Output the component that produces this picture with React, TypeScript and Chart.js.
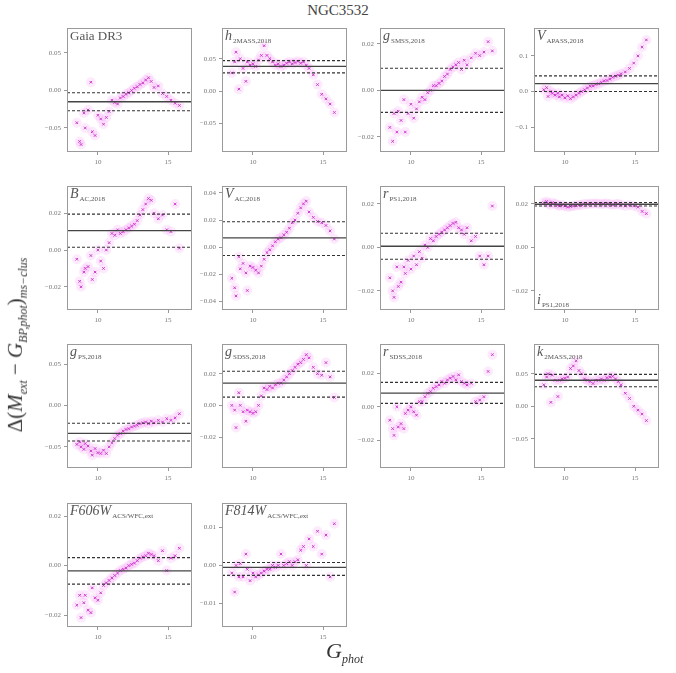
import React, { useEffect, useRef } from "react";
import { Chart, registerables } from "chart.js";
Chart.register(...registerables);

// G_phot magnitudes of the cluster stars
const gPhot = [8.5, 8.7, 8.8, 9.0, 9.1, 9.3, 9.5, 9.6, 9.8, 10.0, 10.2, 10.4, 10.6, 10.8, 11.0, 11.2, 11.4, 11.6, 11.8, 12.0, 12.2, 12.4, 12.6, 12.8, 13.0, 13.2, 13.4, 13.6, 13.8, 14.0, 14.3, 14.6, 14.9, 15.2, 15.5, 15.8];

const gaiaDR3 = [-0.043, -0.068, -0.072, -0.03, -0.05, -0.026, 0.011, -0.055, -0.06, -0.033, -0.038, -0.045, -0.036, -0.028, -0.013, -0.016, -0.018, -0.01, -0.008, -0.005, -0.003, 0.0, 0.003, 0.005, 0.008, 0.01, 0.014, 0.017, 0.012, 0.004, 0.006, -0.004, -0.008, -0.013, -0.017, -0.02];
const h2mass = [0.028, 0.045, 0.06, 0.003, 0.05, 0.035, 0.015, 0.045, 0.04, 0.042, 0.038, 0.048, 0.055, 0.07, 0.055, 0.05, 0.045, 0.04, 0.042, 0.038, 0.04, 0.043, 0.045, 0.042, 0.044, 0.046, 0.043, 0.045, 0.04, 0.035, 0.025, 0.01, -0.005, -0.012, -0.02, -0.033];
const gSmss = [-0.016, -0.022, -0.01, -0.018, -0.009, -0.013, -0.004, -0.018, -0.01, -0.006, -0.012, -0.008, -0.005, -0.003, -0.004, -0.001, 0.0, 0.002, 0.002, 0.003, 0.004, 0.006, 0.007, 0.009, 0.01, 0.011, 0.012, 0.009, 0.013, 0.011, 0.014, 0.016, 0.015, 0.0165, 0.021, 0.017];
const vApass = [0.005, 0.011, -0.014, 0.0, -0.005, -0.01, -0.005, -0.015, -0.01, -0.018, -0.012, -0.02, -0.015, -0.01, -0.005, 0.0, 0.005, 0.01, 0.015, 0.016, 0.02, 0.022, 0.026, 0.03, 0.031, 0.035, 0.04, 0.043, 0.046, 0.05, 0.055, 0.065, 0.08, 0.1, 0.125, 0.145];
const bAc = [-0.005, -0.017, -0.02, -0.012, -0.01, -0.009, -0.003, -0.016, -0.012, 0.0, -0.006, -0.01, 0.0, 0.004, 0.009, 0.008, 0.011, 0.009, 0.01, 0.011, 0.012, 0.013, 0.014, 0.016, 0.019, 0.022, 0.025, 0.028, 0.027, 0.02, 0.017, 0.019, 0.011, 0.01, 0.025, 0.001];
const vAc = [-0.023, -0.03, -0.036, -0.007, -0.016, -0.012, -0.019, -0.032, -0.014, -0.015, -0.017, -0.019, -0.014, -0.009, -0.004, -0.002, 0.001, 0.004, 0.006, 0.007, 0.009, 0.011, 0.014, 0.018, 0.02, 0.025, 0.029, 0.032, 0.034, 0.026, 0.022, 0.019, 0.018, 0.016, 0.012, 0.006];
const rPs1 = [-0.014, -0.02, -0.023, -0.009, -0.018, -0.016, -0.009, -0.012, -0.006, -0.01, -0.004, -0.008, -0.002, -0.005, 0.001, 0.0, 0.004, 0.003, 0.005, 0.006, 0.007, 0.008, 0.009, 0.01, 0.011, 0.0115, 0.009, 0.008, 0.006, 0.009, 0.003, 0.005, -0.004, -0.008, -0.004, 0.019];
const iPs1 = [0.0205, 0.021, 0.02, 0.0195, 0.0205, 0.02, 0.0195, 0.019, 0.0195, 0.019, 0.0185, 0.0188, 0.019, 0.0192, 0.0195, 0.0195, 0.02, 0.0198, 0.02, 0.02, 0.0202, 0.02, 0.0198, 0.02, 0.0202, 0.0198, 0.0195, 0.0198, 0.02, 0.0195, 0.019, 0.0195, 0.019, 0.0185, 0.0165, 0.0155];
const gPs = [-0.047, -0.044, -0.05, -0.053, -0.046, -0.049, -0.055, -0.06, -0.052, -0.057, -0.058, -0.054, -0.058, -0.05, -0.045, -0.04, -0.036, -0.034, -0.031, -0.029, -0.028, -0.026, -0.025, -0.024, -0.022, -0.021, -0.02, -0.022, -0.019, -0.021, -0.018, -0.02, -0.016, -0.018, -0.015, -0.01];
const gSdss = [0.0, -0.003, -0.014, 0.008, 0.0, -0.004, -0.01, -0.003, -0.004, -0.005, -0.004, 0.0, 0.006, 0.011, 0.01, 0.012, 0.011, 0.013, 0.014, 0.014, 0.016, 0.018, 0.02, 0.022, 0.024, 0.026, 0.027, 0.029, 0.032, 0.03, 0.024, 0.02, 0.019, 0.027, 0.018, 0.005];
const rSdss = [-0.008, -0.013, -0.017, 0.0, -0.012, -0.01, -0.013, -0.004, -0.002, 0.0, -0.003, -0.005, 0.003, 0.003, 0.006, 0.008, 0.009, 0.011, 0.012, 0.013, 0.015, 0.014, 0.016, 0.017, 0.018, 0.016, 0.019, 0.015, 0.014, 0.013, 0.014, 0.003, 0.004, 0.006, 0.021, 0.031];
const k2mass = [0.033, 0.045, 0.05, 0.006, 0.048, 0.04, 0.015, 0.04, 0.042, 0.043, 0.045, 0.058, 0.062, 0.07, 0.055, 0.05, 0.042, 0.04, 0.038, 0.035, 0.04, 0.04, 0.042, 0.04, 0.044, 0.045, 0.046, 0.042, 0.038, 0.033, 0.02, 0.012, 0.0, -0.006, -0.012, -0.022];
const f606w = [-0.016, -0.012, -0.021, -0.015, -0.012, -0.018, -0.019, -0.009, -0.013, -0.014, -0.011, -0.008, -0.007, -0.006, -0.005, -0.004, -0.003, -0.002, -0.0015, -0.001, 0.0, 0.0005, 0.001, 0.002, 0.003, 0.0035, 0.004, 0.005, 0.0045, 0.004, 0.002, 0.006, -0.002, 0.003, 0.004, 0.007];
const f814w = [-0.002, -0.007, 0.0, -0.003, 0.0005, -0.003, 0.003, -0.001, -0.004, -0.002, -0.003, -0.0025, -0.002, -0.0015, -0.001, -0.001, 0.0, -0.0005, 0.0, 0.003, 0.0, 0.0005, 0.001, 0.0, 0.001, 0.0015, 0.004, 0.005, 0.0, 0.007, 0.005, 0.009, 0.003, 0.008, -0.003, 0.011];

// median offset and its +/- band per panel
const medianOffsets = [-0.015, 0.038, 0.0, 0.022, 0.0105, 0.0069, 0.0005, 0.0198, -0.0337, 0.014, 0.0081, 0.04, -0.0021, -0.0005];
const upperBounds = [-0.003, 0.047, 0.0095, 0.044, 0.0195, 0.0188, 0.0065, 0.0206, -0.0215, 0.0215, 0.0145, 0.049, 0.0032, 0.0008];
const lowerBounds = [-0.027, 0.028, -0.0095, 0.0, 0.0015, -0.0062, -0.0055, 0.019, -0.043, 0.0052, 0.002, 0.03, -0.0075, -0.0026];

const xTicks = [10, 15];
const ticks05 = [-0.05, 0, 0.05];
const ticks02 = [-0.02, 0, 0.02];
const ticks10 = [-0.1, 0, 0.1];
const ticks04 = [-0.04, -0.02, 0, 0.02, 0.04];
const ticks01 = [-0.01, 0, 0.01];

const X_MIN = 7.8;
const X_MAX = 16.7;

const COLS = [67, 222, 380, 534];
const ROWS = [27, 185, 343, 502];
const PW = 125;
const PH = 125;
const PAD_L = 45;
const PAD_T = 6;
const PAD_R = 6;
const PAD_B = 25;

type Cfg = {
  main: string; sub: string; italic: boolean; values: number[];
  yMin: number; yMax: number; ticks: number[]; dec: number;
  col: number; row: number; labelBottom?: boolean;
};

const panels: Cfg[] = [
  { main: "Gaia DR3", sub: "", italic: false, values: gaiaDR3, yMin: -0.082, yMax: 0.083, ticks: ticks05, dec: 2, col: 0, row: 0 },
  { main: "h", sub: "2MASS,2018", italic: true, values: h2mass, yMin: -0.094, yMax: 0.097, ticks: ticks05, dec: 2, col: 1, row: 0 },
  { main: "g", sub: "SMSS,2018", italic: true, values: gSmss, yMin: -0.0266, yMax: 0.0268, ticks: ticks02, dec: 2, col: 2, row: 0 },
  { main: "V", sub: "APASS,2018", italic: true, values: vApass, yMin: -0.17, yMax: 0.178, ticks: ticks10, dec: 1, col: 3, row: 0 },
  { main: "B", sub: "AC,2018", italic: true, values: bAc, yMin: -0.0326, yMax: 0.0347, ticks: ticks02, dec: 2, col: 0, row: 1 },
  { main: "V", sub: "AC,2018", italic: true, values: vAc, yMin: -0.0464, yMax: 0.045, ticks: ticks04, dec: 2, col: 1, row: 1 },
  { main: "r", sub: "PS1,2018", italic: true, values: rPs1, yMin: -0.0288, yMax: 0.0281, ticks: ticks02, dec: 2, col: 2, row: 1 },
  { main: "i", sub: "PS1,2018", italic: true, values: iPs1, yMin: -0.0288, yMax: 0.0281, ticks: ticks02, dec: 2, col: 3, row: 1, labelBottom: true },
  { main: "g", sub: "PS,2018", italic: true, values: gPs, yMin: -0.0755, yMax: 0.0739, ticks: ticks05, dec: 2, col: 0, row: 2 },
  { main: "g", sub: "SDSS,2018", italic: true, values: gSdss, yMin: -0.0395, yMax: 0.0386, ticks: ticks02, dec: 2, col: 1, row: 2 },
  { main: "r", sub: "SDSS,2018", italic: true, values: rSdss, yMin: -0.0364, yMax: 0.0372, ticks: ticks02, dec: 2, col: 2, row: 2 },
  { main: "k", sub: "2MASS,2018", italic: true, values: k2mass, yMin: -0.095, yMax: 0.0955, ticks: ticks05, dec: 2, col: 3, row: 2 },
  { main: "F606W", sub: "ACS/WFC,ext", italic: true, values: f606w, yMin: -0.0248, yMax: 0.0252, ticks: ticks02, dec: 2, col: 0, row: 3 },
  { main: "F814W", sub: "ACS/WFC,ext", italic: true, values: f814w, yMin: -0.0162, yMax: 0.0164, ticks: ticks01, dec: 2, col: 1, row: 3 },
];

const FONT = "'Liberation Serif', 'DejaVu Serif', serif";

const boxPlugin = {
  id: "box",
  afterDraw(chart: any) {
    const { ctx, chartArea: a } = chart;
    ctx.save();
    ctx.strokeStyle = "#9a9a9a";
    ctx.lineWidth = 1;
    ctx.strokeRect(Math.round(a.left) + 0.5, Math.round(a.top) + 0.5, Math.round(a.right - a.left) - 1, Math.round(a.bottom - a.top) - 1);
    ctx.restore();
  },
};

function Panel({ cfg, idx }: { cfg: Cfg; idx: number }) {
  const ref = useRef<HTMLCanvasElement>(null);
  useEffect(() => {
    const pts = gPhot.map((x, i) => ({ x, y: cfg.values[i] }));
    const hline = (v: number) => [{ x: X_MIN, y: v }, { x: X_MAX, y: v }];
    const fmt = (v: number) => (v === 0 ? (0).toFixed(cfg.dec) : v.toFixed(cfg.dec).replace("-", "\u2212"));
    const chart = new Chart(ref.current as HTMLCanvasElement, {
      type: "scatter",
      data: {
        datasets: [
          { type: "line", data: hline(upperBounds[idx]), borderColor: "#333", borderWidth: 1.1, borderDash: [3, 2], pointRadius: 0, order: 0 } as any,
          { type: "line", data: hline(medianOffsets[idx]), borderColor: "#444", borderWidth: 1.3, pointRadius: 0, order: 0 } as any,
          { type: "line", data: hline(lowerBounds[idx]), borderColor: "#333", borderWidth: 1.1, borderDash: [3, 2], pointRadius: 0, order: 0 } as any,
          { data: pts, pointStyle: "crossRot", pointRadius: 1.8, borderColor: "#cc3acc", pointBorderWidth: 1, backgroundColor: "#cc3acc", order: 1 } as any,
          { data: pts, pointStyle: "circle", pointRadius: 5, backgroundColor: "rgba(245,150,245,0.2)", borderWidth: 0, pointBorderWidth: 0, order: 2 } as any,
        ],
      },
      options: {
        animation: false,
        responsive: false,
        maintainAspectRatio: false,
        layout: { padding: { top: PAD_T, right: PAD_R, left: 0, bottom: 0 } },
        plugins: { legend: { display: false }, tooltip: { enabled: false } },
        scales: {
          x: {
            type: "linear", min: X_MIN, max: X_MAX,
            afterBuildTicks: (s: any) => { s.ticks = xTicks.map((v) => ({ value: v })); },
            afterFit: (s: any) => { s.height = PAD_B; },
            grid: { drawOnChartArea: false, drawTicks: true, tickLength: 3, color: "#999" },
            border: { display: false },
            ticks: { font: { size: 7, family: FONT }, color: "#777", padding: 3, maxRotation: 0, callback: (v: any) => String(v) },
          },
          y: {
            type: "linear", min: cfg.yMin, max: cfg.yMax,
            afterBuildTicks: (s: any) => { s.ticks = cfg.ticks.map((v) => ({ value: v })); },
            afterFit: (s: any) => { s.width = PAD_L; },
            grid: { drawOnChartArea: false, drawTicks: true, tickLength: 3, color: "#999" },
            border: { display: false },
            ticks: { font: { size: 7, family: FONT }, color: "#777", padding: 3, callback: (v: any) => fmt(Number(v)) },
          },
        },
      } as any,
      plugins: [boxPlugin],
    });
    return () => chart.destroy();
  }, []);
  const L = COLS[cfg.col];
  const T = ROWS[cfg.row];
  return (
    <>
      <canvas
        ref={ref}
        width={PAD_L + PW + PAD_R}
        height={PAD_T + PH + PAD_B}
        style={{ position: "absolute", left: L - PAD_L, top: T - PAD_T, width: PAD_L + PW + PAD_R, height: PAD_T + PH + PAD_B }}
      />
      <div
        style={{
          position: "absolute", left: L + 3, top: cfg.labelBottom ? T + PH - 17 : T + 2,
          fontFamily: FONT, color: "#555", fontSize: cfg.italic ? 14 : 13, lineHeight: "14px",
          fontStyle: cfg.italic ? "italic" : "normal", whiteSpace: "nowrap",
        }}
      >
        {cfg.main}
        {cfg.sub && <span style={{ fontSize: 7, fontStyle: "normal", position: "relative", top: 3, marginLeft: 1 }}>{cfg.sub}</span>}
      </div>
    </>
  );
}

export default function App() {
  return (
    <div style={{ position: "absolute", left: 0, top: 0, width: 676, height: 673, background: "#fff", overflow: "hidden" }}>
      <div style={{ position: "absolute", left: 0, width: 676, top: 2, textAlign: "center", fontFamily: FONT, fontSize: 15, color: "#444" }}>NGC3532</div>
      {panels.map((p, i) => (
        <Panel key={i} cfg={p} idx={i} />
      ))}
      <div
        style={{
          position: "absolute", left: 17, top: 345, transform: "translate(-50%, -50%) rotate(-90deg)",
          whiteSpace: "nowrap", fontFamily: FONT, fontSize: 21, color: "#333", fontStyle: "italic",
        }}
      >
        <span style={{ fontStyle: "normal" }}>Δ(</span>M<sub style={{ fontSize: 12 }}>ext</sub>
        <span style={{ fontStyle: "normal" }}> − </span>G<sub style={{ fontSize: 12 }}>BP,phot</sub>
        <span style={{ fontStyle: "normal" }}>)</span><sub style={{ fontSize: 12 }}>ms−clus</sub>
      </div>
      <div style={{ position: "absolute", left: 326, top: 638, fontFamily: FONT, fontSize: 22, color: "#333", fontStyle: "italic", whiteSpace: "nowrap" }}>
        G<sub style={{ fontSize: 12 }}>phot</sub>
      </div>
    </div>
  );
}
